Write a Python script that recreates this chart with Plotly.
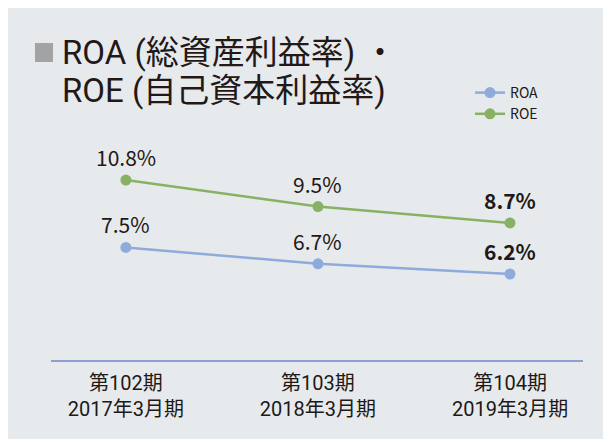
import plotly.graph_objects as go

# ---- data ----
categories = ["第102期<br>2017年3月期", "第103期<br>2018年3月期", "第104期<br>2019年3月期"]
roa = [7.5, 6.7, 6.2]
roe = [10.8, 9.5, 8.7]
roa_labels = ["7.5%", "6.7%", "6.2%"]
roe_labels = ["10.8%", "9.5%", "8.7%"]
title_line1 = "ROA (総資産利益率) ・"
title_line2 = "ROE (自己資本利益率)"

W, H = 603, 439
L, R, T, B = 51, 20, 100, 79
PW, PH = W - L - R, H - T - B

def px_x(px):
    return (px - L) / PW

def px_y(py):
    return (H - B - py) / PH

FONT = "Noto Sans CJK JP, Noto Sans, sans-serif"
TIGHT = "Roboto, Noto Sans CJK JP, sans-serif"
TXT = "#231815"
BLUE = "#8eabdc"
GREEN = "#88b163"
BG = "#e6eaed"

xs = list(range(len(categories)))

fig = go.Figure()
fig.add_trace(go.Scatter(x=xs, y=roa, name="ROA", mode="lines+markers",
                         line=dict(color=BLUE, width=2.5),
                         marker=dict(color=BLUE, size=11)))
fig.add_trace(go.Scatter(x=xs, y=roe, name="ROE", mode="lines+markers",
                         line=dict(color=GREEN, width=2.5),
                         marker=dict(color=GREEN, size=11)))

annotations = []
for series, labels in ((roa, roa_labels), (roe, roe_labels)):
    for i, (v, lab) in enumerate(zip(series, labels)):
        bold = i == len(series) - 1
        annotations.append(dict(
            x=xs[i], y=v, xref="x", yref="y",
            text=f"<b>{lab}</b>" if bold else lab,
            showarrow=False, yshift=23, yanchor="middle",
            font=dict(family=FONT, size=21, color=TXT)))

for text, cy in ((title_line1, 52), (title_line2, 91)):
    annotations.append(dict(x=px_x(60), y=px_y(cy), xref="paper", yref="paper",
                            text=text, showarrow=False, xanchor="left", yanchor="middle",
                            align="left",
                            font=dict(family=TIGHT, size=33, color=TXT)))

shapes = [
    dict(type="rect", xref="paper", yref="paper", layer="below",
         x0=px_x(8), x1=px_x(W + 5), y0=px_y(H + 5), y1=px_y(8),
         fillcolor=BG, line=dict(width=0)),
    dict(type="rect", xref="paper", yref="paper", layer="below",
         x0=px_x(35), x1=px_x(53), y0=px_y(62), y1=px_y(43),
         fillcolor="#a3a3a3", line=dict(width=0)),
]

fig.update_layout(
    width=W, height=H,
    margin=dict(l=L, r=R, t=T, b=B, pad=0),
    paper_bgcolor="white", plot_bgcolor="rgba(0,0,0,0)",
    font=dict(family=FONT, color=TXT),
    showlegend=True,
    legend=dict(x=px_x(470), y=px_y(77), xanchor="left", yanchor="top",
                bgcolor="rgba(0,0,0,0)", font=dict(family=FONT, size=14, color=TXT),
                tracegroupgap=0, itemwidth=30),
    annotations=annotations,
    shapes=shapes,
    xaxis=dict(range=[-0.39, 2.38], tickmode="array", tickvals=xs, ticktext=categories,
               showgrid=False, zeroline=False, showline=True, linecolor="#8f9fd0",
               linewidth=1.5, ticks="", ticklabelstandoff=4,
               tickfont=dict(family=TIGHT, size=20, color=TXT),
               fixedrange=True),
    yaxis=dict(range=[1.99, 14.72], visible=False, fixedrange=True),
)

fig.write_html("out.html")
